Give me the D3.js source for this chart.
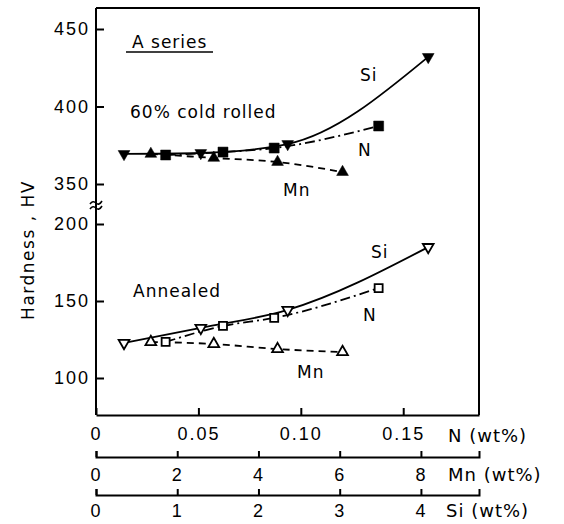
<!DOCTYPE html>
<html lang="en">
<head>
  <meta charset="UTF-8">
  <title>Hardness vs N, Mn, Si</title>
  <script src="https://d3js.org/d3.v7.min.js"></script>
  <style>
    body { margin: 0; background: #fff; }
    svg { font-family: "DejaVu Sans", sans-serif; }
    .axis path, .axis line { stroke: #000; stroke-width: 2; }
    .axis text { font-size: 18px; fill: #000; letter-spacing: 2px; }
    .lbl { font-size: 17px; fill: #000; letter-spacing: 1px; }
  </style>
</head>
<body>
  <script>
    // alloy contents (wt%) for the four specimens in each series
    const nWt  = [0.034, 0.062, 0.087, 0.138];
    const mnWt = [1.35, 2.9, 4.47, 6.07];
    const siWt = [0.345, 1.29, 2.36, 4.09];

    // Vickers hardness, 60% cold rolled
    const hvRolledN  = [368.7, 370.6, 373.2, 387.4];
    const hvRolledMn = [369.4, 366.8, 364.2, 357.7];
    const hvRolledSi = [369.4, 370.0, 375.8, 432.0];

    // Vickers hardness, annealed
    const hvAnnealN  = [123.4, 133.8, 139.0, 158.4];
    const hvAnnealMn = [123.4, 122.1, 118.8, 116.9];
    const hvAnnealSi = [122.7, 132.5, 144.2, 185.0];

    const nTicks  = [0, 0.05, 0.10, 0.15];
    const mnTicks = [0, 2, 4, 6, 8];
    const siTicks = [0, 1, 2, 3, 4];
    const hvUpTicks = [350, 400, 450];
    const hvLoTicks = [100, 150, 200];

    const W = 564, H = 524;
    const pL = 96, pR = 479, pT = 8, pB = 415, breakY = 205;

    const svg = d3.select("body").append("svg")
      .attr("width", W).attr("height", H);

    const xN  = d3.scaleLinear().domain([0, 0.187]).range([pL, pR]);
    const xMn = d3.scaleLinear().domain([0, 9.43]).range([pL, pR]);
    const xSi = d3.scaleLinear().domain([0, 4.715]).range([pL, pR]);

    const yUp = d3.scaleLinear().domain([350, 450]).range([184, 29]);
    const yLo = d3.scaleLinear().domain([100, 200]).range([378, 224]);

    // frame: top and right
    svg.append("path")
      .attr("d", `M${pL},${pT}H${pR}V${pB}`)
      .attr("fill", "none").attr("stroke", "#000").attr("stroke-width", 2);

    // left axis line + ticks
    svg.append("line")
      .attr("x1", pL).attr("x2", pL).attr("y1", pT).attr("y2", pB)
      .attr("stroke", "#000").attr("stroke-width", 2);

    [ [yUp, hvUpTicks], [yLo, hvLoTicks] ].forEach(([sc, tv]) => {
      const g = svg.append("g").attr("class", "axis")
        .attr("transform", `translate(${pL},0)`)
        .call(d3.axisLeft(sc).tickValues(tv).tickSize(-8).tickPadding(6));
      g.select(".domain").remove();
    });

    // axis break mark
    [-3, 2].forEach(dy => {
      svg.append("path")
        .attr("d", `M${pL - 6},${breakY + dy + 2} q3,-4 6,-1 t6,-2`)
        .attr("fill", "none").attr("stroke", "#000").attr("stroke-width", 1.6);
    });

    // bottom axes
    const fmtN = d => d === 0 ? "0" : d.toFixed(2);
    svg.append("g").attr("class", "axis")
      .attr("transform", `translate(0,${pB})`)
      .call(d3.axisBottom(xN).tickValues(nTicks).tickFormat(fmtN)
        .tickSizeInner(-7).tickSizeOuter(0).tickPadding(12));

    svg.append("g").attr("class", "axis")
      .attr("transform", "translate(0,457)")
      .call(d3.axisBottom(xMn).tickValues(mnTicks).tickFormat(d3.format("d"))
        .tickSizeInner(-6).tickSizeOuter(-6).tickPadding(11));

    svg.append("g").attr("class", "axis")
      .attr("transform", "translate(0,495)")
      .call(d3.axisBottom(xSi).tickValues(siTicks).tickFormat(d3.format("d"))
        .tickSizeInner(-6).tickSizeOuter(-6).tickPadding(9));

    const axisTitles = [
      ["N (wt%)", 448, 442],
      ["Mn (wt%)", 448, 481],
      ["Si (wt%)", 446, 517]
    ];
    axisTitles.forEach(([t, x, y]) => {
      svg.append("text").attr("x", x).attr("y", y)
        .attr("font-size", 18).attr("letter-spacing", "1px").text(t);
    });

    // y title
    svg.append("text")
      .attr("transform", "translate(34,250) rotate(-90)")
      .attr("text-anchor", "middle")
      .attr("font-size", 17).attr("letter-spacing", "1.5px")
      .text("Hardness , HV");

    // series
    const series = [
      { xs: nWt,  sc: xN,  ys: hvRolledN,  y: yUp, dash: "10,4,2,4", sym: d3.symbolSquare, rot: 0, fill: true },
      { xs: mnWt, sc: xMn, ys: hvRolledMn, y: yUp, dash: "7,5",      sym: d3.symbolTriangle, rot: 0, fill: true },
      { xs: siWt, sc: xSi, ys: hvRolledSi, y: yUp, dash: null,       sym: d3.symbolTriangle, rot: 180, fill: true },
      { xs: nWt,  sc: xN,  ys: hvAnnealN,  y: yLo, dash: "10,4,2,4", sym: d3.symbolSquare, rot: 0, fill: false },
      { xs: mnWt, sc: xMn, ys: hvAnnealMn, y: yLo, dash: "7,5",      sym: d3.symbolTriangle, rot: 0, fill: false },
      { xs: siWt, sc: xSi, ys: hvAnnealSi, y: yLo, dash: null,       sym: d3.symbolTriangle, rot: 180, fill: false }
    ];

    series.forEach(s => {
      const pts = s.xs.map((v, i) => [s.sc(v), s.y(s.ys[i])]);
      svg.append("path")
        .attr("d", d3.line().curve(d3.curveMonotoneX)(pts))
        .attr("fill", "none").attr("stroke", "#000").attr("stroke-width", 1.8)
        .attr("stroke-dasharray", s.dash);
    });

    series.forEach(s => {
      const isSq = s.sym === d3.symbolSquare;
      const size = s.fill ? (isSq ? 100 : 60) : (isSq ? 64 : 50);
      const sym = d3.symbol().type(s.sym).size(size);
      svg.append("g").selectAll("path")
        .data(s.xs.map((v, i) => [s.sc(v), s.y(s.ys[i])]))
        .join("path")
          .attr("d", sym)
          .attr("transform", d => `translate(${d[0]},${d[1]}) rotate(${s.rot})`)
          .attr("fill", s.fill ? "#000" : "#fff")
          .attr("stroke", "#000").attr("stroke-width", s.fill ? 0.5 : 1.8);
    });

    // annotations
    const notes = [
      ["A series", 132, 48],
      ["60% cold rolled", 130, 118],
      ["Si", 360, 81], ["N", 358, 156], ["Mn", 283, 196],
      ["Annealed", 133, 297],
      ["Si", 371, 258], ["N", 363, 321], ["Mn", 297, 378]
    ];
    notes.forEach(([t, x, y]) => {
      svg.append("text").attr("class", "lbl").attr("x", x).attr("y", y).text(t);
    });
    svg.append("line")
      .attr("x1", 126).attr("x2", 213).attr("y1", 52).attr("y2", 52)
      .attr("stroke", "#000").attr("stroke-width", 1.6);
  </script>
</body>
</html>
